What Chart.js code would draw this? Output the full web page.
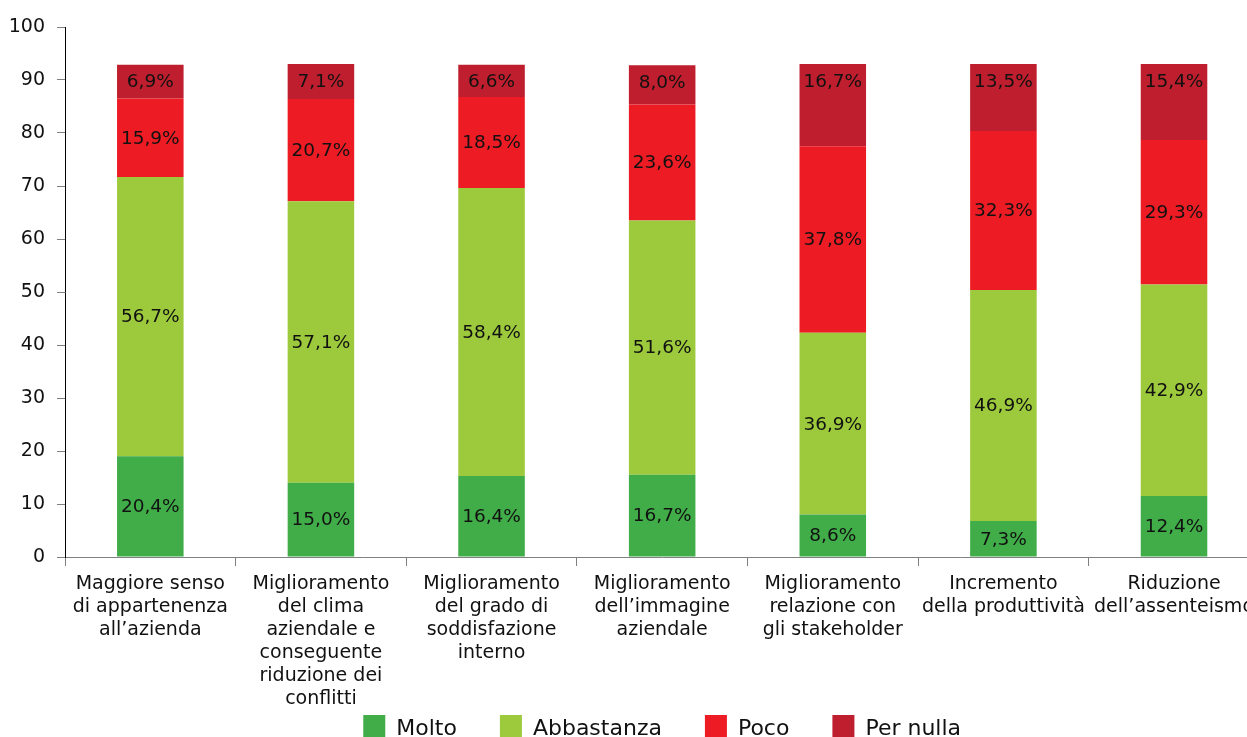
<!DOCTYPE html>
<html>
<head>
<meta charset="utf-8">
<script src="https://cdn.jsdelivr.net/npm/chart.js@4.4.1/dist/chart.umd.min.js"></script>
<style>
  html, body { margin: 0; padding: 0; overflow: hidden; background: #ffffff; width: 1247px; height: 737px; }
  #wrap { position: absolute; left: 0; top: 0; width: 1261px; height: 753px; }
</style>
</head>
<body>
<div id="wrap"><canvas id="c" width="1261" height="753"></canvas></div>
<script>
// Categories (x-axis labels, multi-line)
const categories = [
  ["Maggiore senso", "di appartenenza", "all\u2019azienda"],
  ["Miglioramento", "del clima", "aziendale e", "conseguente", "riduzione dei", "conflitti"],
  ["Miglioramento", "del grado di", "soddisfazione", "interno"],
  ["Miglioramento", "dell\u2019immagine", "aziendale"],
  ["Miglioramento", "relazione con", "gli stakeholder"],
  ["Incremento", "della produttivit\u00e0"],
  ["Riduzione", "dell\u2019assenteismo"]
];

const seriesNames = ["Molto", "Abbastanza", "Poco", "Per nulla"];

// Printed percentages (labels inside the segments)
const moltoPct      = [20.4, 15.0, 16.4, 16.7, 8.6, 7.3, 12.4];
const abbastanzaPct = [56.7, 57.1, 58.4, 51.6, 36.9, 46.9, 42.9];
const pocoPct       = [15.9, 20.7, 18.5, 23.6, 37.8, 32.3, 29.3];
const perNullaPct   = [6.9, 7.1, 6.6, 8.0, 16.7, 13.5, 15.4];

// Segment heights as read against the 0-100 axis
const moltoVal      = [19.0, 14.0, 15.3, 15.5, 8.0, 6.8, 11.5];
const abbastanzaVal = [52.7, 53.1, 54.3, 48.0, 34.3, 43.6, 39.9];
const pocoVal       = [14.8, 19.3, 17.2, 21.9, 35.2, 30.0, 27.3];
const perNullaVal   = [6.4, 6.6, 6.1, 7.4, 15.5, 12.6, 14.3];

// Y-axis ticks
const yTicks = [0, 10, 20, 30, 40, 50, 60, 70, 80, 90, 100];

const colors = ["#41AD49", "#9DCA3C", "#ED1C24", "#BE1E2D"];
const values = [moltoVal, abbastanzaVal, pocoVal, perNullaVal];
const pcts = [moltoPct, abbastanzaPct, pocoPct, perNullaPct];

const FONT = "'DejaVu Sans', sans-serif";

const segLabels = {
  id: 'segLabels',
  afterDatasetsDraw(chart) {
    const ctx = chart.ctx;
    const last = chart.data.datasets.length - 1;
    ctx.save();
    ctx.font = "18.5px " + FONT;
    ctx.fillStyle = "#111111";
    ctx.textAlign = "center";
    ctx.textBaseline = "middle";
    chart.data.datasets.forEach((ds, di) => {
      const meta = chart.getDatasetMeta(di);
      meta.data.forEach((el, i) => {
        const p = el.getProps(['x', 'y', 'base'], true);
        const txt = pcts[di][i].toFixed(1).replace('.', ',') + '%';
        let cy = (p.y + p.base) / 2;
        if (di === last) cy = Math.min(cy, p.y + 17);
        ctx.fillText(txt, p.x, cy + 1);
      });
    });
    ctx.restore();
  }
};

Chart.defaults.font.family = FONT;
Chart.defaults.color = "#111111";

new Chart(document.getElementById('c'), {
  type: 'bar',
  data: {
    labels: categories,
    datasets: seriesNames.map((name, i) => ({
      label: name,
      data: values[i],
      backgroundColor: colors[i],
      borderWidth: 0,
      categoryPercentage: 1.0,
      barPercentage: 0.39
    }))
  },
  options: {
    responsive: false,
    animation: false,
    devicePixelRatio: 1,
    layout: { padding: { left: 8, top: 27, right: 0, bottom: 0 } },
    plugins: {
      tooltip: { enabled: false },
      legend: {
        position: 'bottom',
        fullSize: false,
        labels: {
          boxWidth: 22,
          boxHeight: 28,
          padding: 43,
          font: { size: 22, family: FONT },
          color: "#111111"
        }
      }
    },
    scales: {
      x: {
        stacked: true,
        afterFit: (scale) => {
          scale.height = 115;
          scale._computeLabelArea = () => undefined;
        },
        grid: { display: true, drawOnChartArea: false, tickLength: 9, color: "#808080", lineWidth: 1 },
        border: { display: true, color: "#808080", width: 1 },
        ticks: {
          autoSkip: false,
          maxRotation: 0,
          padding: 7,
          font: { size: 19, family: FONT, lineHeight: 1.21 },
          color: "#111111"
        }
      },
      y: {
        stacked: true,
        min: 0,
        max: 100,
        afterBuildTicks: (scale) => { scale.ticks = yTicks.map(v => ({ value: v })); },
        afterFit: (scale) => { scale.width = 57; },
        grid: { display: true, drawOnChartArea: false, tickLength: 8, color: "#808080", lineWidth: 1 },
        border: { display: true, color: "#000000", width: 1 },
        ticks: {
          padding: 12,
          font: { size: 19, family: FONT },
          color: "#111111"
        }
      }
    }
  },
  plugins: [segLabels]
});
</script>
</body>
</html>
